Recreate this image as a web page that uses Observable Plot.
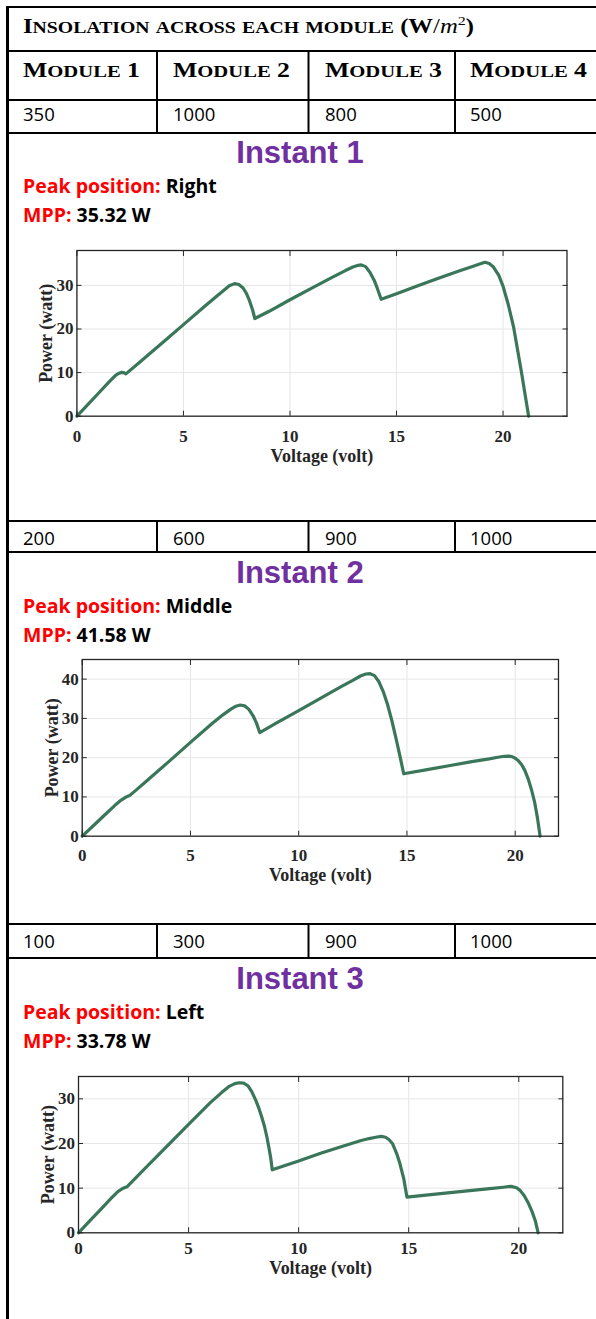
<!DOCTYPE html>
<html><head><meta charset="utf-8">
<script src="https://cdn.jsdelivr.net/npm/d3@7"></script>
<script src="https://cdn.jsdelivr.net/npm/@observablehq/plot@0.6"></script>
<style>
html,body{margin:0;padding:0;background:#fff;}
body{width:596px;height:1319px;position:relative;overflow:hidden;}
#frame{position:absolute;left:0;top:0;z-index:2;pointer-events:none;}
.serif{font-family:"Liberation Serif","Times New Roman",serif;font-weight:bold;}
.cal{font-family:"Open Sans",sans-serif;}
.inst{font-family:"Liberation Sans",Arial,sans-serif;font-weight:bold;fill:#7030A0;}
</style></head><body>
<script>
// ---------- data ----------
const titleText = "Insolation across each module";
const moduleNames = ["Module 1", "Module 2", "Module 3", "Module 4"];
const insolation1 = [350, 1000, 800, 500];
const insolation2 = [200, 600, 900, 1000];
const insolation3 = [100, 300, 900, 1000];
const instantNames = ["Instant 1", "Instant 2", "Instant 3"];
const peakPositions = ["Right", "Middle", "Left"];
const mppValues = ["35.32 W", "41.58 W", "33.78 W"];
const xTicks = [0, 5, 10, 15, 20];
const yTicks1 = [0, 10, 20, 30];
const yTicks2 = [0, 10, 20, 30, 40];
const yTicks3 = [0, 10, 20, 30];
const xLabel = "Voltage (volt)";
const yLabel = "Power (watt)";

const voltage1 = [0,0.5,1.0,1.5,1.8,1.95,2.1,2.2,2.3,3,4,5,6,6.6,6.9,7.15,7.4,7.6,7.8,7.95,8.1,8.25,8.35,9,10,11,12,12.6,12.95,13.2,13.35,13.55,13.75,13.95,14.1,14.28,15,16,17,18,18.6,18.9,19.15,19.35,19.55,19.8,20.0,20.25,20.5,20.85,21.2];
const power1   = [0,2.6,5.2,7.8,9.3,9.8,10.05,10.0,9.7,12.6,16.8,21.0,25.2,27.7,28.9,29.9,30.4,30.2,29.4,28.2,26.5,24.3,22.4,24.0,26.7,29.3,31.9,33.4,34.2,34.6,34.7,34.3,33.0,31.2,29.3,26.8,28.1,29.9,31.7,33.4,34.4,34.9,35.3,35.0,34.2,32.3,29.8,25.5,20.3,10.5,0];

const voltage2 = [0,0.5,1.0,1.5,1.8,2.0,2.2,2.5,3,4,5,6,6.5,6.85,7.1,7.3,7.5,7.7,7.9,8.05,8.2,9,10,11,12,12.5,12.85,13.1,13.3,13.5,13.7,13.9,14.1,14.3,14.5,14.7,14.85,16,17,18,18.8,19.2,19.5,19.7,19.85,20.0,20.15,20.3,20.45,20.6,20.75,20.9,21.03,21.15];
const power2   = [0,2.6,5.2,7.8,9.2,9.9,10.4,11.8,14.2,19.0,23.9,28.7,30.9,32.3,33.1,33.4,33.2,32.3,30.6,28.8,26.4,28.9,32.0,35.1,38.2,39.7,40.8,41.3,41.4,40.9,39.4,36.9,33.6,29.5,24.8,19.8,15.9,17.0,18.0,19.0,19.7,20.1,20.35,20.4,20.25,19.85,19.2,18.2,16.7,14.6,11.9,8.6,4.6,0];

const voltage3 = [0,0.5,1.0,1.5,1.8,2.0,2.2,3,4,5,6,6.5,6.85,7.1,7.3,7.5,7.7,7.87,8.05,8.2,8.32,8.45,8.56,8.66,8.74,8.8,10,11,12,12.8,13.2,13.5,13.75,13.95,14.1,14.26,14.45,14.6,14.78,14.92,16,17,18,18.8,19.3,19.65,19.9,20.06,20.25,20.44,20.6,20.75,20.88];
const power3   = [0,2.6,5.2,7.8,9.3,9.9,10.3,14.3,19.3,24.3,29.2,31.4,32.8,33.4,33.6,33.5,32.9,31.6,29.7,27.8,26.0,23.8,21.4,18.8,16.5,14.1,16.1,17.8,19.4,20.6,21.1,21.4,21.6,21.4,20.9,20.0,17.8,15.5,12.0,8.0,8.55,9.05,9.55,9.95,10.2,10.4,10.1,9.5,8.3,6.6,4.8,2.7,0];

// ---------- layout ----------
const pageW = 596, pageH = 1319;
const lineColor = "#3A765A";
const inkColor = "#262626";

const colX = [8, 156, 307.5, 454];   // column borders
const textX = [23, 173, 325, 470];

const frame = d3.create("svg").attr("id", "frame").attr("width", pageW).attr("height", pageH);
function hline(y, h = 2) { frame.append("rect").attr("x", 6).attr("y", y).attr("width", pageW - 6).attr("height", h).attr("fill", "#000"); }
function vline(x, y0, y1, w = 2) { frame.append("rect").attr("x", x).attr("y", y0).attr("width", w).attr("height", y1 - y0).attr("fill", "#000"); }

vline(6, 6, pageH, 3);
hline(6);
hline(50); hline(99); hline(132);
hline(520); hline(551);
hline(923); hline(957);
for (const x of colX.slice(1)) { vline(x, 50, 134); vline(x, 520, 553); vline(x, 923, 959); }

// small caps drawn as runs of full-size and reduced capitals
function smallCaps(textSel, str, F, r) {
  const runs = [];
  for (const ch of str) {
    const small = ch !== ch.toUpperCase();
    if (runs.length && runs[runs.length - 1].small === small) runs[runs.length - 1].s += ch;
    else runs.push({small, s: ch});
  }
  for (const run of runs) {
    textSel.append("tspan").attr("font-size", run.small ? F * r : F).text(run.small ? run.s.toUpperCase() : run.s);
  }
}

// title
const tt = frame.append("text").attr("class", "serif").attr("x", 23).attr("y", 32.5)
  .attr("font-size", 20).attr("textLength", 451).attr("lengthAdjust", "spacingAndGlyphs");
smallCaps(tt, titleText + " (W", 20, 0.8);
tt.append("tspan").attr("font-weight", "normal").attr("font-size", 20).text("/");
tt.append("tspan").attr("font-weight", "normal").attr("font-style", "italic").attr("font-size", 20).text("m");
tt.append("tspan").attr("font-weight", "normal").attr("font-size", 13).attr("dy", -8).text("2");
tt.append("tspan").attr("font-size", 20).attr("dy", 8).text(")");

moduleNames.forEach((m, i) => {
  const t = frame.append("text").attr("class", "serif").attr("x", textX[i]).attr("y", 77)
    .attr("font-size", 20).attr("textLength", 117).attr("lengthAdjust", "spacingAndGlyphs");
  smallCaps(t, m, 20, 0.8);
});

function valueRow(vals, baseline) {
  vals.forEach((v, i) => frame.append("text").attr("class", "cal").attr("x", textX[i]).attr("y", baseline).attr("font-size", 18.5).attr("fill", "#000").text(v));
}
valueRow(insolation1, 121);
valueRow(insolation2, 545);
valueRow(insolation3, 948);

function instantBlock(i, base) {
  frame.append("text").attr("class", "inst").attr("x", 300).attr("y", base).attr("text-anchor", "middle").attr("font-size", 31).text(instantNames[i]);
  const p = frame.append("text").attr("class", "cal").attr("x", 23).attr("y", base + 29.5).attr("font-size", 19.5).attr("font-weight", "bold");
  p.append("tspan").attr("fill", "#FF0000").text("Peak position: ");
  p.append("tspan").attr("fill", "#000").text(peakPositions[i]);
  const q = frame.append("text").attr("class", "cal").attr("x", 23).attr("y", base + 58.5).attr("font-size", 19.5).attr("font-weight", "bold");
  q.append("tspan").attr("fill", "#FF0000").text("MPP: ");
  q.append("tspan").attr("fill", "#000").text(mppValues[i]);
}
instantBlock(0, 163.3);
instantBlock(1, 583.3);
instantBlock(2, 989.3);

// ---------- charts ----------
function drawChart(cfg, volt, power, yTicks) {
  const data = volt.map((v, i) => ({v, p: power[i]}));
  const mt = 10, mb = 70;
  const svg = Plot.plot({
    width: pageW,
    height: (cfg.bottom - cfg.top) + mt + mb,
    marginTop: mt,
    marginBottom: mb,
    marginLeft: cfg.left,
    marginRight: pageW - cfg.right,
    x: {domain: [0, cfg.xMax]},
    y: {domain: [0, cfg.yMax]},
    style: {fontFamily: "'Liberation Serif','Times New Roman',serif", fontWeight: "bold", fontSize: "17px", color: inkColor, background: "transparent", overflow: "visible"},
    marks: [
      Plot.gridX(xTicks, {stroke: "#e6e6e6", strokeOpacity: 1}),
      Plot.gridY(yTicks, {stroke: "#e6e6e6", strokeOpacity: 1}),
      Plot.line(data, {x: "v", y: "p", stroke: lineColor, strokeWidth: 3.2, strokeLinejoin: "round"}),
      Plot.frame({stroke: inkColor, strokeWidth: 1.3}),
      Plot.axisX(xTicks, {anchor: "bottom", tickSize: -5, tickPadding: cfg.xPad, fontSize: 17, label: null}),
      Plot.axisX(xTicks, {anchor: "top", tickSize: -5, fill: "none", label: null}),
      Plot.axisY(yTicks, {anchor: "left", tickSize: -5, tickPadding: cfg.yPad, fontSize: 17, label: null}),
      Plot.axisY(yTicks, {anchor: "right", tickSize: -5, fill: "none", label: null}),
      Plot.text([xLabel], {frameAnchor: "bottom", text: d => d, dy: cfg.xLabelOffset, fontSize: 18, textAnchor: "middle", lineAnchor: "bottom", fill: inkColor}),
      Plot.text([yLabel], {frameAnchor: "left", text: d => d, dx: -cfg.yLabelOffset, rotate: -90, fontSize: 18, textAnchor: "middle", lineAnchor: "top", fill: inkColor})
    ]
  });
  svg.style.position = "absolute";
  svg.style.left = "0px";
  svg.style.top = (cfg.top - mt) + "px";
  svg.style.maxWidth = "none";
  svg.style.zIndex = 1;
  document.body.appendChild(svg);
}

drawChart({top: 250, bottom: 415.7, left: 76.4, right: 566.5, xMax: 23, yMax: 38, xPad: 18.5, yPad: 8.5, xLabelOffset: 46, yLabelOffset: 38}, voltage1, power1, yTicks1);
drawChart({top: 659, bottom: 835.7, left: 81.7, right: 558, xMax: 22, yMax: 45, xPad: 18, yPad: 8.5, xLabelOffset: 45, yLabelOffset: 37}, voltage2, power2, yTicks2);
drawChart({top: 1076, bottom: 1232.3, left: 78, right: 562.3, xMax: 22, yMax: 35, xPad: 14, yPad: 8.5, xLabelOffset: 41.5, yLabelOffset: 37}, voltage3, power3, yTicks3);

document.body.appendChild(frame.node());
</script>
</body></html>
